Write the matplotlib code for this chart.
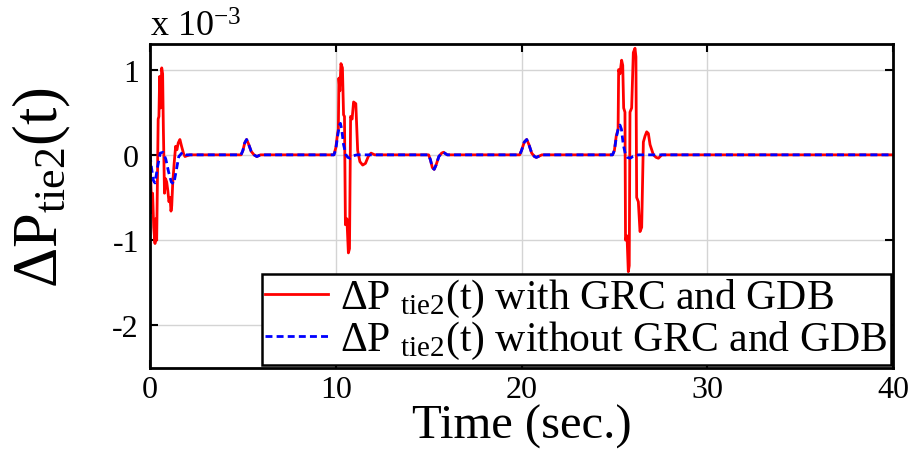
import matplotlib
matplotlib.use("Agg")
import matplotlib.pyplot as plt

plt.rcParams["font.family"] = ["Liberation Serif", "DejaVu Serif"]
plt.rcParams["mathtext.fontset"] = "custom"
plt.rcParams["mathtext.rm"] = "Liberation Serif"
plt.rcParams["mathtext.it"] = "Liberation Serif:italic"
plt.rcParams["axes.unicode_minus"] = False

# Tie-line power deviation (x 1e-3 p.u.) with GRC and GDB
t_with = [0, 0.05, 0.09, 0.14, 0.2, 0.27, 0.31, 0.36, 0.4, 0.44, 0.48, 0.52, 0.57, 0.63,
          0.68, 0.72, 0.78, 0.84, 0.9, 0.96, 1.02, 1.08, 1.13, 1.17, 1.22, 1.3, 1.38, 1.45,
          1.52, 1.61, 1.7, 1.8, 1.88, 2.0, 2.15,
          4.9, 5.0, 5.1, 5.2, 5.3, 5.45, 5.6, 5.75, 5.95,
          9.9, 10.0, 10.1, 10.14, 10.17, 10.22, 10.28, 10.36, 10.42, 10.47, 10.52, 10.6,
          10.68, 10.74, 10.8, 10.88, 10.96, 11.08, 11.18, 11.3, 11.45, 11.6, 11.75, 11.9, 12.1,
          15.0, 15.1, 15.2, 15.3, 15.4, 15.55, 15.7, 15.8, 16.0,
          19.9, 20.0, 20.15, 20.28, 20.4, 20.55, 20.7, 20.8, 21.1,
          24.9, 25.0, 25.1, 25.2, 25.23, 25.3, 25.39, 25.45, 25.5, 25.57, 25.6, 25.68, 25.75,
          25.8, 25.84, 25.93, 26.02, 26.11, 26.16, 26.2, 26.29, 26.38, 26.47, 26.56, 26.65,
          26.74, 26.83, 26.92, 27.1, 27.25, 27.37, 27.55, 40.0]
p_with = [0, -0.35, -0.68, -0.45, -0.85, -1.04, -0.75, -1.0, -0.3, 0.42, 0.45, 0.92, 0.55, 1.02,
          0.95, 0.3, -0.45, -0.28, -0.32, -0.42, -0.55, -0.5, -0.66, -0.6, -0.35, -0.1, 0.1, 0.06,
          0.14, 0.18, 0.1, 0.02, -0.02, -0.01, 0,
          0, 0.05, 0.14, 0.18, 0.13, 0.04, 0.0, -0.02, 0,
          0, 0.08, 0.25, 0.3, 0.9, 0.75, 1.07, 1.02, 0.47, 0.45, -0.82, -0.75,
          -1.15, -1.1, 0.45, 0.42, 0.62, 0.6, 0.05, -0.08, -0.12, -0.1, -0.02, 0.02, 0,
          0, -0.06, -0.15, -0.17, -0.12, -0.02, 0.02, 0.03, 0,
          0, 0.05, 0.15, 0.18, 0.12, 0.02, -0.02, -0.03, 0,
          0, 0.05, 0.22, 0.3, 1.0, 0.95, 1.11, 1.05, 0.55, 0.5, -1.0, -0.95, -1.37,
          -1.3, 0.5, 0.55, 1.2, 1.25, 1.15, -0.5, -0.55, -0.9, -0.85, 0.15, 0.22,
          0.27, 0.25, 0.12, 0.0, -0.03, -0.04, 0, 0]

# Tie-line power deviation (x 1e-3 p.u.) without GRC and GDB
t_without = [0, 0.08, 0.18, 0.27, 0.4, 0.55, 0.7, 0.85, 1.0, 1.15, 1.28, 1.4, 1.55, 1.75, 1.95, 2.2,
             4.9, 5.0, 5.1, 5.2, 5.3, 5.45, 5.6, 5.75, 5.95,
             9.9, 10.0, 10.1, 10.2, 10.25, 10.32, 10.42, 10.55, 10.65, 10.77, 10.95, 11.15,
             15.0, 15.1, 15.2, 15.3, 15.4, 15.55, 15.7, 15.8, 16.0,
             19.9, 20.0, 20.15, 20.28, 20.4, 20.55, 20.7, 20.8, 21.1,
             24.9, 25.0, 25.1, 25.2, 25.3, 25.38, 25.48, 25.6, 25.7, 25.84, 26.0, 26.3, 40.0]
p_without = [0, -0.15, -0.3, -0.33, -0.15, 0.02, 0.03, -0.05, -0.2, -0.32, -0.34, -0.2, -0.02, 0.03, 0.0, 0,
             0, 0.05, 0.14, 0.18, 0.13, 0.04, 0.0, -0.02, 0,
             0, 0.06, 0.22, 0.35, 0.37, 0.3, 0.12, 0.0, -0.03, -0.04, -0.01, 0,
             0, -0.06, -0.15, -0.17, -0.12, -0.02, 0.02, 0.03, 0,
             0, 0.05, 0.15, 0.18, 0.12, 0.02, -0.02, -0.03, 0,
             0, 0.05, 0.2, 0.3, 0.35, 0.3, 0.12, 0.0, -0.03, -0.04, -0.02, 0, 0]

x_ticks = [0, 10, 20, 30, 40]
y_ticks = [-2, -1, 0, 1]

fig = plt.figure(figsize=(9.17, 4.52), dpi=100)
ax = fig.add_axes([150 / 917, 1 - 369 / 452, 743 / 917, 324 / 452])

ax.plot(t_with, p_with, color="red", lw=2.0,
        label=r"ΔP $_{\rm tie2}$(t) with GRC and GDB")
ax.plot(t_without, p_without, color="blue", lw=2.0, ls=(0, (2.5, 1.5)),
        label=r"ΔP $_{\rm tie2}$(t) without GRC and GDB")

ax.set_xlim(0, 40)
ax.set_ylim(-2.5, 1.3)
ax.set_xticks(x_ticks)
ax.set_yticks(y_ticks)
ax.set_xticklabels([str(v) for v in x_ticks])
ax.set_yticklabels([str(v) for v in y_ticks])
ax.grid(True, color="#d4d4d4", lw=1.0)
ax.set_axisbelow(True)
ax.tick_params(direction="in", length=6, width=1.5, top=True, right=True,
               labelsize=23, pad=8)
ax.tick_params(axis="x", pad=5)
for s in ax.spines.values():
    s.set_linewidth(2.0)

ax.set_xlabel("Time (sec.)", fontsize=35, va="bottom")
ax.xaxis.set_label_coords(0.5, (369 - 449) / 324)
ax.set_ylabel(r"ΔP$_{\rm tie2}$(t)", fontsize=45)
ax.yaxis.set_label_coords(-0.104, 0.56)

fig.text(150 / 917, 1 - 37 / 452, r"x 10$^{-3}$", fontsize=26, ha="left", va="baseline")

leg = ax.legend(loc="lower right", bbox_to_anchor=(0.997, 0.01), fontsize=30,
                frameon=True, fancybox=False, edgecolor="black", framealpha=1,
                borderpad=0.08, labelspacing=0.0, handlelength=1.5, handletextpad=0.3,
                borderaxespad=0)
leg.get_frame().set_linewidth(1.8)

fig.savefig("out.png", dpi=100)
